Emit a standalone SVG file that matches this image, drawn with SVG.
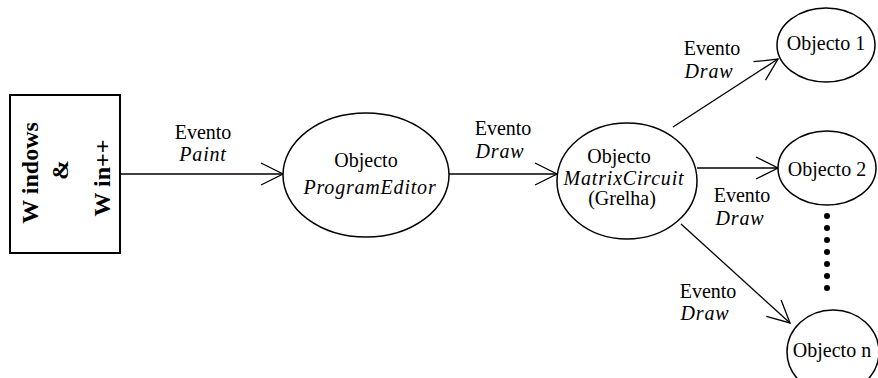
<svg xmlns="http://www.w3.org/2000/svg" width="878" height="378" viewBox="0 0 878 378">
<style>
.up{font-family:"Liberation Serif","Times New Roman",serif;font-size:20px;fill:#000;text-anchor:middle}
.it{font-family:"Liberation Serif","Times New Roman",serif;font-style:italic;font-size:20px;letter-spacing:0.8px;fill:#000;text-anchor:middle}
.bx{font-family:"Liberation Serif","Times New Roman",serif;font-weight:bold;font-size:24px;fill:#000;text-anchor:middle}
.node{fill:#fff;stroke:#000;stroke-width:1.5}
.edge{fill:none;stroke:#000;stroke-width:1.3;marker-end:url(#ah)}
</style>
<defs>
<marker id="ah" markerUnits="userSpaceOnUse" markerWidth="26" markerHeight="26" refX="22" refY="11" orient="auto" viewBox="-2 -2 26 26">
<path d="M0,0 L22,11 L0,22" fill="none" stroke="#000" stroke-width="1.3"/>
</marker>
</defs>
<rect width="878" height="378" fill="#fff"/>
<g id="connectors">
<line class="edge" x1="120" y1="174" x2="283" y2="174"/>
<line class="edge" x1="449" y1="174" x2="557" y2="174"/>
<line class="edge" x1="673" y1="127" x2="778" y2="59"/>
<line class="edge" x1="697" y1="168" x2="778" y2="168"/>
<line class="edge" x1="681" y1="224" x2="790" y2="323"/>
</g>
<g id="windows">
<rect x="10" y="95" width="110" height="158" fill="#fff" stroke="#000" stroke-width="2"/>
<text class="bx" transform="translate(38,173) rotate(-90)">W indows</text>
<text class="bx" transform="translate(68,170) rotate(-90)">&amp;</text>
<text class="bx" transform="translate(110,178) rotate(-90)">W in++</text>
</g>
<g id="programeditor">
<ellipse class="node" cx="366" cy="175" rx="83" ry="62"/>
<text class="up" x="366" y="167">Objecto</text>
<text class="it" x="370" y="194">ProgramEditor</text>
</g>
<g id="matrixcircuit">
<ellipse class="node" cx="627" cy="181" rx="70" ry="58"/>
<text class="up" x="619" y="163">Objecto</text>
<text class="it" x="624" y="185">MatrixCircuit</text>
<text class="up" x="622" y="205">(Grelha)</text>
</g>
<g id="objecto1">
<ellipse class="node" cx="826" cy="45" rx="49" ry="37"/>
<text class="up" x="826" y="50">Objecto 1</text>
</g>
<g id="objecto2">
<ellipse class="node" cx="827" cy="168" rx="49" ry="37"/>
<text class="up" x="827" y="176">Objecto 2</text>
</g>
<g id="objecton">
<ellipse class="node" cx="833" cy="352" rx="46" ry="42"/>
<text class="up" x="832" y="357">Objecto n</text>
</g>
<g id="dots" fill="#000">
<circle cx="827" cy="216" r="3"/>
<circle cx="827" cy="228" r="3"/>
<circle cx="827" cy="240" r="3"/>
<circle cx="827" cy="252" r="3"/>
<circle cx="827" cy="264" r="3"/>
<circle cx="827" cy="276" r="3"/>
<circle cx="827" cy="288" r="3"/>
</g>
<g id="labels">
<text class="up" x="203" y="139">Evento</text>
<text class="it" x="203" y="161">Paint</text>
<text class="up" x="503" y="135">Evento</text>
<text class="it" x="500" y="158">Draw</text>
<text class="up" x="712" y="55">Evento</text>
<text class="it" x="709" y="78">Draw</text>
<text class="up" x="742" y="202">Evento</text>
<text class="it" x="740" y="225">Draw</text>
<text class="up" x="708" y="298">Evento</text>
<text class="it" x="705" y="320">Draw</text>
</g>
</svg>
